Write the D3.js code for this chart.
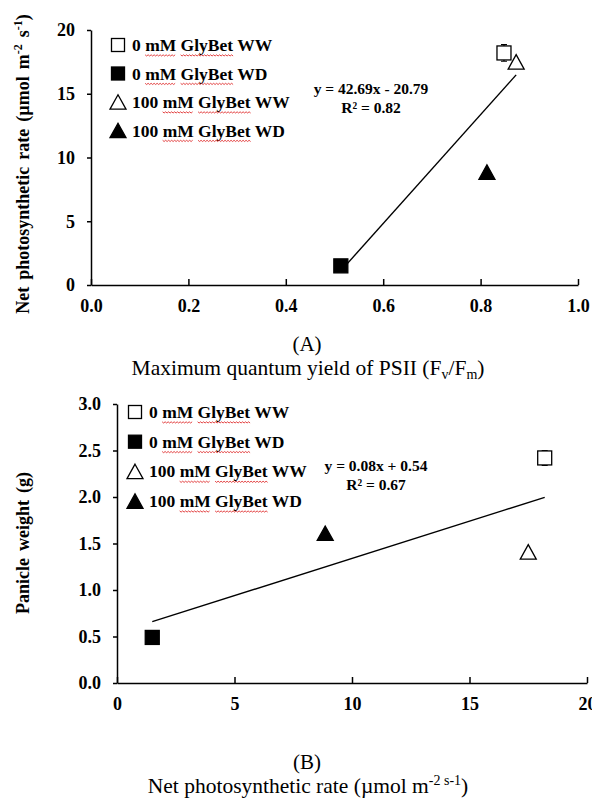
<!DOCTYPE html>
<html>
<head>
<meta charset="utf-8">
<script src="https://cdn.jsdelivr.net/npm/d3@7"></script>
<style>
  body { margin: 0; background: #fff; }
  svg { display: block; font-family: "Liberation Serif", "Times New Roman", serif; }
  .axis path, .axis line { stroke: #000; stroke-width: 1.5; }
  .axis text { font-size: 18px; font-weight: bold; fill: #000; font-family: "Liberation Serif", serif; }
</style>
</head>
<body>
<script>
'use strict';

// treatments, shared by both panels
var groups = ['0 mM GlyBet WW', '0 mM GlyBet WD', '100 mM GlyBet WW', '100 mM GlyBet WD'];
var shapes = ['square', 'square', 'triangle', 'triangle'];
var filled = [false, true, false, true];

// panel A: Fv/Fm vs net photosynthetic rate
var fvfm = [0.848, 0.513, 0.873, 0.813];
var pn = [18.2, 1.5, 17.5, 8.86];
var pnErr = [0.65, 0.3, 0, 0];
var trendA = {slope: 42.69, intercept: -20.79, r2: '0.82'};
var ticksAx = [0, 0.2, 0.4, 0.6, 0.8, 1.0];
var ticksAy = [0, 5, 10, 15, 20];

// panel B: net photosynthetic rate vs panicle weight
var panicle = [2.42, 0.49, 1.41, 1.61];
var panicleErr = [0.08, 0, 0, 0];
var trendB = {slope: 0.08, intercept: 0.54, r2: '0.67'};
var ticksBx = [0, 5, 10, 15, 20];
var ticksBy = [0, 0.5, 1.0, 1.5, 2.0, 2.5, 3.0];

var width = 592;
var height = 798;

var svg = d3.select('body').append('svg')
    .attr('width', width)
    .attr('height', height);

function marker(g, shape, isFilled, cx, cy, size) {
    var fill = isFilled ? '#000' : '#fff';
    if (shape === 'square') {
        g.append('rect')
            .attr('x', cx - size / 2).attr('y', cy - size / 2)
            .attr('width', size).attr('height', size)
            .attr('fill', fill).attr('stroke', '#000').attr('stroke-width', 1.3);
    } else {
        var h = size * 0.9;
        g.append('path')
            .attr('d', 'M' + cx + ',' + (cy - h / 2) + 'L' + (cx + size / 2) + ',' + (cy + h / 2) +
                'L' + (cx - size / 2) + ',' + (cy + h / 2) + 'Z')
            .attr('fill', fill).attr('stroke', '#000').attr('stroke-width', 1.3);
    }
}

// red squiggle like a spell checker under the given words
function squiggle(g, textNode, x, y, words) {
    var str = textNode.textContent;
    words.forEach(function(w) {
        var idx = str.indexOf(w);
        if (idx < 0) return;
        var x0 = x + (idx > 0 ? textNode.getSubStringLength(0, idx) : 0);
        var len = textNode.getSubStringLength(idx, w.length);
        var pts = [];
        for (var i = 0; i <= len; i += 1.5) {
            pts.push([x0 + i, y + ((Math.round(i / 1.5) % 2) ? 1 : -0.2)]);
        }
        g.append('path')
            .attr('d', d3.line()(pts))
            .attr('fill', 'none')
            .attr('stroke', '#e03030')
            .attr('stroke-width', 0.9);
    });
}

function legend(g, x, y, dy) {
    groups.forEach(function(name, i) {
        var cy = y + i * dy;
        marker(g, shapes[i], filled[i], x, cy, shapes[i] === 'square' ? 13 : 16);
        var t = g.append('text')
            .attr('x', x + 14)
            .attr('y', cy + 6)
            .attr('font-size', '17.5px')
            .attr('font-weight', 'bold')
            .text(name);
        squiggle(g, t.node(), x + 14, cy + 10, ['mM', 'GlyBet']);
    });
}

function panel(opts) {
    var g = svg.append('g');
    var x = d3.scaleLinear().domain(opts.xDomain).range(opts.xRange);
    var y = d3.scaleLinear().domain(opts.yDomain).range(opts.yRange);

    g.append('g')
        .attr('class', 'axis')
        .attr('transform', 'translate(0,' + opts.yRange[0] + ')')
        .call(d3.axisBottom(x).tickValues(opts.xTicks).tickFormat(d3.format(opts.xFmt))
            .tickSize(-6).tickSizeOuter(0).tickPadding(14));

    g.append('g')
        .attr('class', 'axis')
        .attr('transform', 'translate(' + opts.xRange[0] + ',0)')
        .call(d3.axisLeft(y).tickValues(opts.yTicks).tickFormat(d3.format(opts.yFmt))
            .tickSize(4).tickSizeOuter(0).tickPadding(12));

    // trend line across the data range
    var xs = d3.extent(opts.xs);
    var t = opts.trend;
    g.append('line')
        .attr('x1', x(xs[0])).attr('y1', y(t.slope * xs[0] + t.intercept))
        .attr('x2', x(xs[1])).attr('y2', y(t.slope * xs[1] + t.intercept))
        .attr('stroke', '#000').attr('stroke-width', 1.4);

    // error bars
    opts.xs.forEach(function(d, i) {
        var e = opts.err[i];
        if (!e) return;
        var cx = x(d);
        var y0 = y(opts.ys[i] + e);
        var y1 = y(opts.ys[i] - e);
        g.append('path')
            .attr('d', 'M' + cx + ',' + y0 + 'V' + y1 + 'M' + (cx - 3) + ',' + y0 + 'H' + (cx + 3) +
                'M' + (cx - 3) + ',' + y1 + 'H' + (cx + 3))
            .attr('stroke', '#000').attr('stroke-width', 1.2).attr('fill', 'none');
    });

    opts.xs.forEach(function(d, i) {
        marker(g, shapes[i], filled[i], x(d), y(opts.ys[i]), shapes[i] === 'square' ? 14 : 16);
    });

    g.append('text')
        .attr('x', opts.eq[0]).attr('y', opts.eq[1])
        .attr('text-anchor', 'middle')
        .attr('font-size', '15.5px').attr('font-weight', 'bold')
        .text('y = ' + t.slope.toFixed(2) + 'x ' + (t.intercept < 0 ? '- ' : '+ ') +
            Math.abs(t.intercept).toFixed(2));
    g.append('text')
        .attr('x', opts.eq[0]).attr('y', opts.eq[1] + 19)
        .attr('text-anchor', 'middle')
        .attr('font-size', '15.5px').attr('font-weight', 'bold')
        .text('R\u00b2 = ' + t.r2);

    legend(g, opts.legend[0], opts.legend[1], opts.legend[2]);
    return g;
}

panel({
    xDomain: [0, 1], xRange: [91, 578],
    yDomain: [0, 20], yRange: [285, 30],
    xTicks: ticksAx, yTicks: ticksAy, xFmt: '.1f', yFmt: 'd',
    xs: fvfm, ys: pn, err: pnErr, trend: trendA,
    eq: [371, 94], legend: [118, 45, 28.5]
});

panel({
    xDomain: [0, 20], xRange: [117, 587],
    yDomain: [0, 3], yRange: [683, 404],
    xTicks: ticksBx, yTicks: ticksBy, xFmt: 'd', yFmt: '.1f',
    xs: pn, ys: panicle, err: panicleErr, trend: trendB,
    eq: [376, 471], legend: [135, 412, 29.7]
});

// y axis titles
var ya = svg.append('text')
    .attr('transform', 'translate(29,164) rotate(-90)')
    .attr('text-anchor', 'middle')
    .attr('font-size', '18px').attr('font-weight', 'bold')
    .attr('word-spacing', '2.5px');
ya.append('tspan').text('Net photosynthetic rate (\u00b5mol m');
ya.append('tspan').attr('dy', -7).attr('font-size', '12px').text('-2');
ya.append('tspan').attr('dy', 7).text(' s');
ya.append('tspan').attr('dy', -7).attr('font-size', '12px').text('-1');
ya.append('tspan').attr('dy', 7).text(')');

svg.append('text')
    .attr('transform', 'translate(29,543) rotate(-90)')
    .attr('text-anchor', 'middle')
    .attr('font-size', '18px').attr('font-weight', 'bold')
    .attr('word-spacing', '2.5px')
    .text('Panicle weight (g)');

// captions under each panel
svg.append('text').attr('x', 307).attr('y', 351).attr('text-anchor', 'middle')
    .attr('font-size', '21px').text('(A)');
var ca = svg.append('text').attr('x', 308).attr('y', 375).attr('text-anchor', 'middle')
    .attr('font-size', '21.5px');
ca.append('tspan').text('Maximum quantum yield of PSII (F');
ca.append('tspan').attr('dy', 4).attr('font-size', '14px').text('v');
ca.append('tspan').attr('dy', -4).text('/F');
ca.append('tspan').attr('dy', 4).attr('font-size', '14px').text('m');
ca.append('tspan').attr('dy', -4).text(')');

svg.append('text').attr('x', 307).attr('y', 769).attr('text-anchor', 'middle')
    .attr('font-size', '21px').text('(B)');
var cb = svg.append('text').attr('x', 308).attr('y', 793).attr('text-anchor', 'middle')
    .attr('font-size', '21.5px');
cb.append('tspan').text('Net photosynthetic rate (\u00b5mol m');
cb.append('tspan').attr('dy', -8).attr('font-size', '14px').text('-2 s-1');
cb.append('tspan').attr('dy', 8).text(')');
</script>
</body>
</html>
